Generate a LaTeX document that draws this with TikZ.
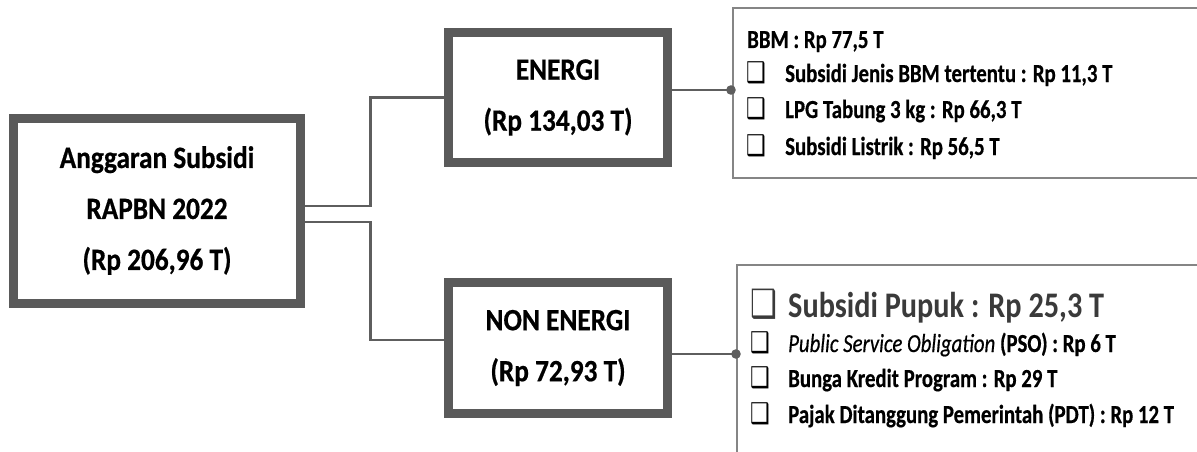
\documentclass[tikz,border=0pt]{standalone}
\usepackage{fontspec}
\setmainfont{Carlito}
\newfontfamily\boxfont[FakeStretch=0.88,FakeBold=0.6]{Carlito}
\newfontfamily\listfont[FakeStretch=0.8,FakeBold=0.5]{Carlito}
\newfontfamily\bigfont[FakeStretch=0.84]{Carlito}
\newfontfamily\symfont{DejaVu Sans}
\definecolor{boxgray}{HTML}{5A5A5A}
\definecolor{conngray}{HTML}{5E5E5E}
\definecolor{listgray}{HTML}{858585}
\definecolor{bigtext}{HTML}{3A3A3A}
\newcommand{\chkbox}{\scalebox{1}[1.3]{❑}}
\begin{document}
\begin{tikzpicture}[x=1pt,y=-1pt,
  bigbox/.style={draw=boxgray, line width=9pt, fill=white, align=center, inner sep=0pt,
    font=\boxfont\bfseries\fontsize{31}{51}\selectfont},
  conn/.style={draw=conngray, line width=2.8pt},
  listbox/.style={draw=listgray, line width=1.6pt},
  item/.style={anchor=base west, inner sep=0pt, font=\listfont\bfseries\fontsize{26}{30}\selectfont},
  chk/.style={anchor=base west, inner sep=0pt, font=\symfont\bfseries\fontsize{22}{24}\selectfont},
  bigchk/.style={anchor=base west, inner sep=0pt, font=\symfont\bfseries\fontsize{30}{34}\selectfont, text=bigtext},
  bigitem/.style={anchor=base west, inner sep=0pt, text=bigtext, font=\bigfont\bfseries\fontsize{36}{40}\selectfont},
  dot/.style={fill=conngray}]
\clip (0,0) rectangle (1197,452);
\fill[white] (0,0) rectangle (1197,452);

% info boxes (cut off by the picture edge)
\draw[listbox] (1210,8) -- (733,8) -- (733,178) -- (1210,178);
\draw[listbox] (1210,265) -- (737,265) -- (737,470);

% main boxes
\node[bigbox, minimum width=287.5pt, minimum height=185pt] (main) at (157,210.5)
  {Anggaran Subsidi\\RAPBN 2022\\(Rp 206,96 T)};
\node[bigbox, minimum width=218.5pt, minimum height=130pt] (energi) at (558,97.5)
  {ENERGI\\(Rp 134,03 T)};
\node[bigbox, minimum width=218.5pt, minimum height=130.5pt] (nonenergi) at (558,348)
  {NON ENERGI\\(Rp 72,93 T)};

% connectors
\draw[conn] ([yshift=4.5pt]main.east) -- ++(65,0) |- (energi.west);
\draw[conn] ([yshift=-11.5pt]main.east) -- ++(65,0) |- ([yshift=8pt]nonenergi.west);
\coordinate (d1) at (731,90);
\coordinate (d2) at (736,354);
\draw[conn] ([yshift=7.5pt]energi.east) -- (d1);
\draw[conn] ([yshift=-6pt]nonenergi.east) -- (d2);
\fill[dot] (d1) circle (4.8pt);
\fill[dot] (d2) circle (4.8pt);

% energy list
\node[item] (bbm) at (747,48) {BBM : Rp 77,5 T};
\node[chk] (c1) at (746,82) {\chkbox};
\node[item] (t1) at (785,82) {Subsidi Jenis BBM tertentu : Rp 11,3 T};
\node[chk] (c2) at (746,118) {\chkbox};
\node[item] (t2) at (785,118) {LPG Tabung 3 kg : Rp 66,3 T};
\node[chk] (c3) at (746,155) {\chkbox};
\node[item] (t3) at (785,155) {Subsidi Listrik : Rp 56,5 T};

% non energy list
\node[bigchk] (c4) at (750,317) {\chkbox};
\node[bigitem] (t4) at (788,317) {Subsidi Pupuk : Rp 25,3 T};
\node[chk] (c5) at (750,352) {\chkbox};
\node[item] (t5) at (788,352) {{\mdseries\itshape Public Service Obligation} (PSO) : Rp 6 T};
\node[chk] (c6) at (750,387) {\chkbox};
\node[item] (t6) at (788,387) {Bunga Kredit Program : Rp 29 T};
\node[chk] (c7) at (750,423) {\chkbox};
\node[item] (t7) at (788,423) {Pajak Ditanggung Pemerintah (PDT) : Rp 12 T};
\end{tikzpicture}
\end{document}
